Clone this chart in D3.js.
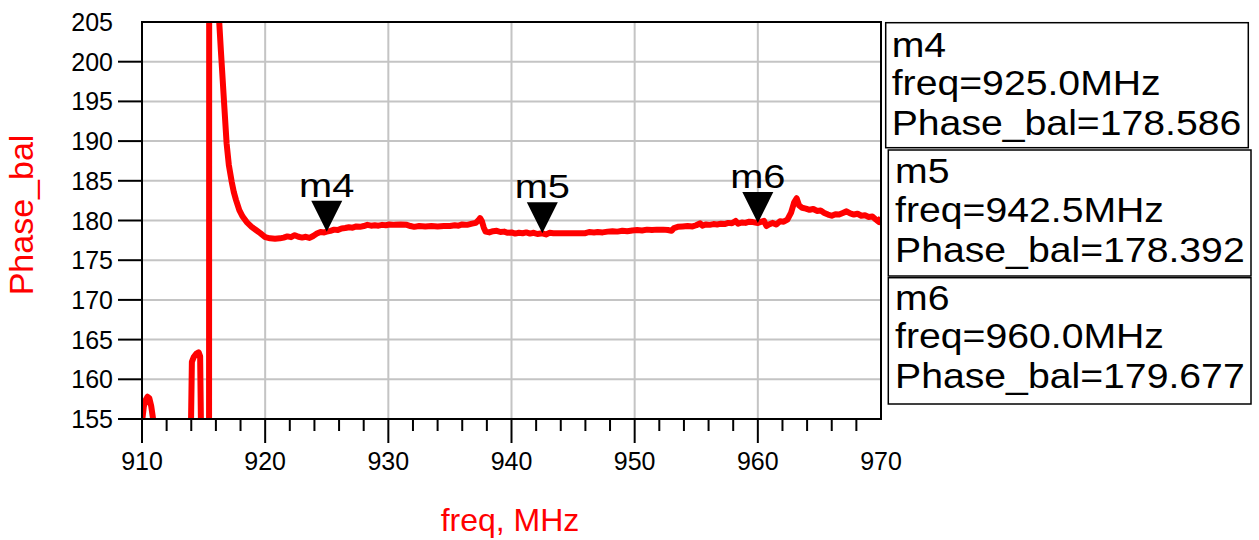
<!DOCTYPE html>
<html><head><meta charset="utf-8">
<script src="https://cdn.jsdelivr.net/npm/d3@7"></script>
<style>body{margin:0;background:#fff;} svg{display:block;} text{font-family:"Liberation Sans",Arial,sans-serif;}</style>
</head><body>
<svg id="chart" width="1259" height="540"></svg>
<script>
const xTicks = [910, 920, 930, 940, 950, 960, 970];
const yTicks = [155, 160, 165, 170, 175, 180, 185, 190, 195, 200, 205];
const freq = [910.0,910.15,910.3,910.45,910.6,910.75,910.9,911.1,911.5,913.9,914.05,914.2,914.4,914.6,914.72,914.82,915.0,915.44,915.46,916.0,916.27,916.4,916.5,916.65,916.87,917.05,917.28,917.45,917.63,917.9,918.17,918.5,918.9,919.25,919.6,920.0,920.4,920.8,921.2,921.5,921.8,922.1,922.4,922.7,923.0,923.3,923.6,923.9,924.2,924.5,924.8,925.0,925.3,925.6,925.9,926.2,926.5,926.8,927.1,927.4,927.7,928.0,928.3,928.6,928.9,929.2,929.5,929.8,930.1,930.5,931.0,931.5,931.8,932.1,932.5,933.0,933.5,934.0,934.5,935.0,935.4,935.7,936.0,936.4,936.8,937.1,937.3,937.45,937.6,937.75,937.9,938.2,938.5,938.8,939.1,939.4,939.7,940.0,940.3,940.6,940.9,941.2,941.5,941.8,942.1,942.5,942.8,943.1,943.4,943.8,944.5,945.2,946.0,946.3,946.7,947.0,947.4,947.8,948.2,948.6,949.0,949.4,949.8,950.2,950.6,951.0,951.4,951.8,952.3,952.7,953.0,953.2,953.5,953.9,954.3,954.7,955.0,955.3,955.5,955.8,956.1,956.4,956.7,957.0,957.3,957.6,957.9,958.2,958.4,958.7,959.0,959.3,959.6,960.0,960.3,960.5,960.7,960.9,961.2,961.5,961.8,962.1,962.4,962.7,962.95,963.15,963.35,963.6,963.9,964.2,964.5,964.8,965.1,965.4,965.7,966.0,966.3,966.6,966.9,967.2,967.5,967.8,968.1,968.4,968.7,969.0,969.3,969.6,969.85,970.0];
const phaseBal = [154.6,156.6,157.4,157.8,157.6,156.6,155.0,151,146,146,162.2,162.8,163.2,163.4,162.9,150,140,132,240,216,205,201.5,199,195.2,189.7,187,184.9,183.6,182.6,181.3,180.5,179.8,179.2,178.8,178.4,177.9,177.75,177.7,177.75,177.85,178.0,177.9,178.15,177.95,177.85,177.95,177.8,178.05,178.35,178.55,178.5,178.59,178.7,178.85,178.8,179.0,179.05,179.15,179.1,179.25,179.2,179.3,179.45,179.35,179.4,179.35,179.45,179.4,179.5,179.45,179.5,179.45,179.3,179.2,179.3,179.25,179.3,179.25,179.3,179.3,179.4,179.35,179.5,179.45,179.6,179.7,180.0,180.3,179.9,179.1,178.6,178.5,178.65,178.7,178.55,178.6,178.45,178.5,178.35,178.45,178.4,178.5,178.35,178.45,178.3,178.39,178.25,178.45,178.4,178.4,178.4,178.4,178.4,178.55,178.5,178.55,178.5,178.6,178.65,178.6,178.7,178.65,178.75,178.8,178.75,178.85,178.8,178.85,178.85,178.8,178.7,179.05,179.2,179.25,179.3,179.25,179.4,179.65,179.35,179.5,179.45,179.55,179.5,179.6,179.55,179.7,179.65,179.95,179.6,179.75,179.7,179.85,179.8,179.68,179.85,179.95,179.3,179.5,179.7,179.5,179.9,179.85,180.1,181.0,182.3,182.8,181.9,181.6,181.5,181.35,181.45,181.2,181.25,180.95,180.75,180.6,180.8,180.75,180.95,181.15,180.9,180.75,180.85,180.6,180.65,180.45,180.5,180.1,179.8,180.4];
const markerNames = ["m4", "m5", "m6"];
const markerFreq = [925.0, 942.5, 960.0];
const markerVal = [178.586, 178.392, 179.677];
const markerFreqText = ["925.0MHz", "942.5MHz", "960.0MHz"];

const svg = d3.select("#chart");
const L = 142, R = 881, T = 22, B = 419;
const x = d3.scaleLinear().domain([910, 970]).range([L, R]);
const y = d3.scaleLinear().domain([155, 205]).range([B, T]);
const red = "#ff0000";

// grid
svg.append("g").selectAll("line").data(xTicks.slice(1, -1)).join("line")
  .attr("x1", d => x(d)).attr("x2", d => x(d)).attr("y1", T).attr("y2", B)
  .attr("stroke", "#c4c4c4").attr("stroke-width", 2);
svg.append("g").selectAll("line").data(yTicks.slice(1, -1)).join("line")
  .attr("y1", d => y(d)).attr("y2", d => y(d)).attr("x1", L).attr("x2", R)
  .attr("stroke", "#c4c4c4").attr("stroke-width", 2);

// clip + data line
svg.append("clipPath").attr("id", "clip").append("rect")
  .attr("x", L).attr("y", T).attr("width", R - L).attr("height", B - T);
const pts = freq.map((f, i) => [f, phaseBal[i]]);
svg.append("path").datum(pts)
  .attr("clip-path", "url(#clip)")
  .attr("fill", "none").attr("stroke", red).attr("stroke-width", 6)
  .attr("stroke-linejoin", "round")
  .attr("d", d3.line().x(d => x(d[0])).y(d => y(d[1])));

// frame
svg.append("rect").attr("x", L).attr("y", T).attr("width", R - L).attr("height", B - T)
  .attr("fill", "none").attr("stroke", "#000").attr("stroke-width", 2);

// y ticks & labels
svg.append("g").selectAll("line").data(yTicks.slice(0, -1)).join("line")
  .attr("x1", L - 24).attr("x2", L).attr("y1", d => y(d)).attr("y2", d => y(d))
  .attr("stroke", "#000").attr("stroke-width", 2);
svg.append("g").selectAll("text").data(yTicks).join("text")
  .attr("x", 113).attr("y", d => y(d) + 9).attr("text-anchor", "end")
  .attr("font-size", 25).text(d => d);

// x ticks
const minor = d3.range(912, 970, 2).filter(d => d % 10 !== 0);
svg.append("g").selectAll("line").data(xTicks.slice(0, -1)).join("line")
  .attr("x1", d => x(d)).attr("x2", d => x(d)).attr("y1", B).attr("y2", B + 24)
  .attr("stroke", "#000").attr("stroke-width", 2);
svg.append("g").selectAll("line").data(minor).join("line")
  .attr("x1", d => x(d)).attr("x2", d => x(d)).attr("y1", B).attr("y2", B + 12)
  .attr("stroke", "#000").attr("stroke-width", 2);
svg.append("g").selectAll("text").data(xTicks).join("text")
  .attr("x", d => x(d)).attr("y", 470).attr("text-anchor", "middle")
  .attr("font-size", 25).text(d => d);

// axis titles
svg.append("text").attr("x", 510).attr("y", 531).attr("text-anchor", "middle")
  .attr("font-size", 32).attr("fill", red).text("freq, MHz");
svg.append("text").attr("transform", "translate(33,215) rotate(-90)")
  .attr("text-anchor", "middle").attr("font-size", 34).attr("fill", red).text("Phase_bal");

// markers
const mk = svg.append("g");
markerNames.forEach((n, i) => {
  const px = x(markerFreq[i]), py = y(markerVal[i]);
  mk.append("path").attr("d", `M${px},${py} L${px - 15.5},${py - 31} L${px + 15.5},${py - 31} Z`).attr("fill", "#000");
  mk.append("text").attr("transform", `translate(${px},${py - 35}) scale(1.17,1)`)
    .attr("text-anchor", "middle").attr("font-size", 34).text(n);
});

// readout boxes
const boxes = [
  {x0: 885.7, y0: 22.7, x1: 1248.3, y1: 147.7, tx: 891.7, b: [56.7, 95, 135]},
  {x0: 888.3, y0: 150, x1: 1251, y1: 276, tx: 895, b: [183, 222, 262]},
  {x0: 888.3, y0: 277.7, x1: 1251, y1: 404, tx: 895, b: [310, 348, 388]}
];
boxes.forEach((bx, i) => {
  svg.append("rect").attr("x", bx.x0).attr("y", bx.y0).attr("width", bx.x1 - bx.x0).attr("height", bx.y1 - bx.y0)
    .attr("fill", "#fff").attr("stroke", "#000").attr("stroke-width", 1.5);
  const lines = [markerNames[i], "freq=" + markerFreqText[i], "Phase_bal=" + markerVal[i].toFixed(3)];
  lines.forEach((t, j) => {
    svg.append("text").attr("transform", `translate(${bx.tx},${bx.b[j]}) scale(1.12,1)`)
      .attr("font-size", 35).text(t);
  });
});
</script>
</body></html>
